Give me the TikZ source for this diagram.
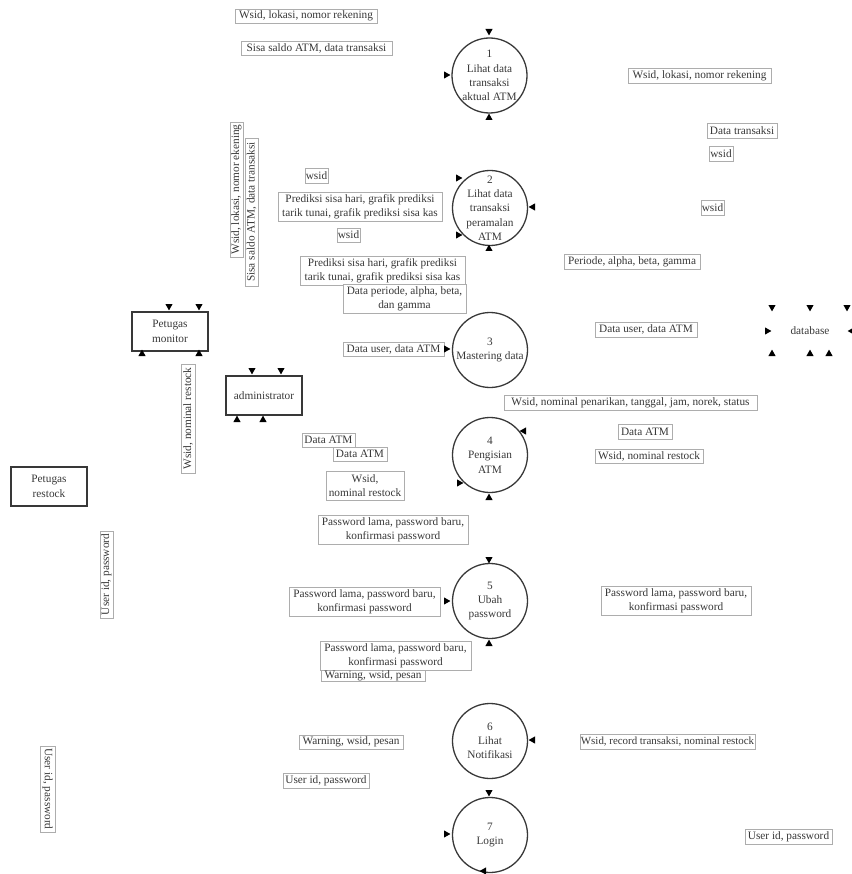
\documentclass[tikz,border=0pt]{standalone}
\usepackage{fontspec}
\setmainfont{Liberation Serif}
\definecolor{ink}{gray}{0.22}
\definecolor{frame}{gray}{0.68}
\tikzset{
  x=1pt,y=-1pt,
  every node/.style={font=\fontsize{11.3}{14.3}\selectfont,text=ink},
  flowlabel/.style={draw=frame,line width=0.6pt,fill=white,inner sep=0pt,align=center},
  procnode/.style={circle,draw=ink,line width=1.3pt,minimum size=75pt,inner sep=0pt},
  entitynode/.style={rectangle,draw=ink,line width=1.4pt,minimum width=76pt,minimum height=39pt,inner sep=0pt,align=center},
  plainnode/.style={inner sep=0pt,align=center}
}
\newcommand{\tipD}[2]{\fill[black] (#1-3.6,#2-3) -- (#1+3.6,#2-3) -- (#1,#2+3.4) -- cycle;}
\newcommand{\tipU}[2]{\fill[black] (#1-3.6,#2+3) -- (#1+3.6,#2+3) -- (#1,#2-3.4) -- cycle;}
\newcommand{\tipR}[2]{\fill[black] (#1-3,#2-3.6) -- (#1-3,#2+3.6) -- (#1+3.4,#2) -- cycle;}
\newcommand{\tipL}[2]{\fill[black] (#1+3,#2-3.6) -- (#1+3,#2+3.6) -- (#1-3.4,#2) -- cycle;}
% box given by its corners: name, x0, y0, x1, y1, text
\newcommand{\lab}[6]{\node[flowlabel,minimum width=#4pt-#2pt,minimum height=#5pt-#3pt] (#1) at ({(#2+#4)/2},{(#3+#5)/2}) {#6};}
\newcommand{\vlab}[6]{\node[flowlabel,rotate=90,minimum width=#5pt-#3pt,minimum height=#4pt-#2pt] (#1) at ({(#2+#4)/2},{(#3+#5)/2}) {#6};}
\begin{document}
\begin{tikzpicture}
\useasboundingbox (0,0) rectangle (851,874);
% processes: the circle keeps its size, its text may reach past the rim
\node[procnode] (p1) at (489.5,75.5) {};
\node[plainnode] (t1) at (p1) {1\\Lihat data\\transaksi\\aktual ATM};
\node[procnode] (p2) at (490,208) {};
\node[plainnode] (t2) at (p2) {2\\Lihat data\\transaksi\\peramalan\\ATM};
\node[procnode] (p3) at (490,350) {};
\node[plainnode] (t3) at (p3) {3\\Mastering data};
\node[procnode] (p4) at (490,455) {};
\node[plainnode] (t4) at (p4) {4\\Pengisian\\ATM};
\node[procnode] (p5) at (490,601) {};
\node[plainnode] (t5) at (p5) {5\\Ubah\\password};
\node[procnode] (p6) at (490,741) {};
\node[plainnode] (t6) at (p6) {6\\Lihat\\Notifikasi};
\node[procnode] (p7) at (490,835) {};
\node[plainnode] (t7) at (p7) {7\\Login};
% entities
\node[entitynode] (mon) at (170,331.5) {Petugas\\monitor};
\node[entitynode] (adm) at (264,395.5) {administrator};
\node[entitynode] (res) at (49,486.5) {Petugas\\restock};
\node[plainnode] (db) at (810,331) {database};
% labels, upper left
\lab{a1}{235}{9}{377}{23}{Wsid, lokasi, nomor rekening}
\lab{a2}{241}{41}{392}{55}{Sisa saldo ATM, data transaksi}
\vlab{a3}{230}{122}{243}{257}{Wsid, lokasi, nomor ekening}
\vlab{a4}{245}{138}{258}{286}{Sisa saldo ATM, data transaksi}
\lab{a5}{305}{168}{328}{183}{wsid}
\lab{a6}{278}{192}{442}{221}{Prediksi sisa hari, grafik prediksi\\tarik tunai, grafik prediksi sisa kas}
\lab{a7}{337}{228}{360}{242}{wsid}
\lab{a8}{300}{256}{465}{285}{Prediksi sisa hari, grafik prediksi\\tarik tunai, grafik prediksi sisa kas}
\lab{a9}{343}{284}{466}{313}{Data periode, alpha, beta,\\dan gamma}
\lab{a10}{343}{342}{444}{356}{Data user, data ATM}
\lab{a11}{302}{433}{355}{447}{Data ATM}
\lab{a12}{333}{447}{387}{461}{Data ATM}
\lab{a13}{326}{471}{404}{500}{Wsid,\\nominal restock}
\lab{a14}{318}{515}{468}{544}{Password lama, password baru,\\konfirmasi password}
\lab{a15}{289}{587}{440}{616}{Password lama, password baru,\\konfirmasi password}
\lab{a16}{320}{641}{471}{670}{Password lama, password baru,\\konfirmasi password}
\lab{a17}{321}{670}{425}{681}{Warning, wsid, pesan}
\lab{a18}{299}{735}{403}{749}{Warning, wsid, pesan}
\lab{a19}{283}{773}{369}{788}{User id, password}
\vlab{a20}{181}{364}{195}{473}{Wsid, nominal restock}
\vlab{a21}{100}{531}{113}{618}{User id, password}
\node[flowlabel,rotate=-90,minimum width=86pt,minimum height=15pt] (a22) at (47.5,789) {User id, password};
% labels, right
\lab{b1}{628}{68}{771}{83}{Wsid, lokasi, nomor rekening}
\lab{b2}{707}{123}{777}{138}{Data transaksi}
\lab{b3}{709}{146}{733}{161}{wsid}
\lab{b4}{701}{200}{724}{215}{wsid}
\lab{b5}{564}{254}{700}{269}{Periode, alpha, beta, gamma}
\lab{b6}{595}{322}{697}{337}{Data user, data ATM}
\lab{b7}{504}{395}{757}{410}{Wsid, nominal penarikan, tanggal, jam, norek, status}
\lab{b8}{618}{424}{672}{439}{Data ATM}
\lab{b9}{595}{449}{703}{463}{Wsid, nominal restock}
\lab{b10}{601}{586}{751}{615}{Password lama, password baru,\\konfirmasi password}
\lab{b11}{580}{734}{755}{749}{\fontsize{10.9}{14.3}\selectfont Wsid, record transaksi, nominal restock}
\lab{b12}{745}{829}{832}{844}{User id, password}
% arrow tips
\tipD{489}{32}\tipR{447}{75}\tipU{489}{117}
\tipR{459}{178}\tipL{532}{207}\tipR{459}{235}\tipU{489}{248}
\tipR{447}{349}
\tipL{523}{431}\tipR{460}{483}\tipU{489}{497}
\tipD{489}{560}\tipR{447}{601}\tipU{489}{643}
\tipL{532}{740}
\tipD{489}{793}\tipR{447}{834}\tipL{483}{871}
\tipD{169}{307}\tipD{199}{307}\tipU{142}{353}\tipU{199}{353}
\tipD{252}{371}\tipD{281}{371}\tipU{237}{419}\tipU{263}{419}
\tipD{772}{308}\tipD{810}{308}\tipD{847}{308}
\tipR{768}{331}\tipL{851}{331}
\tipU{772}{353}\tipU{810}{353}\tipU{829}{353}
\end{tikzpicture}
\end{document}
